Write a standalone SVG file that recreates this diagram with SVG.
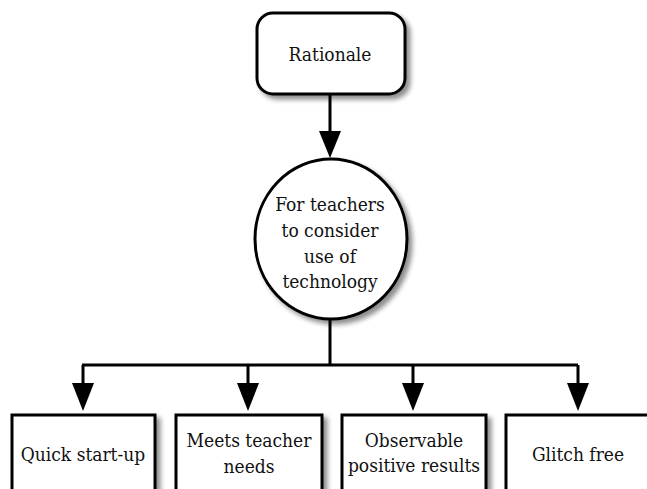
<svg xmlns="http://www.w3.org/2000/svg" width="647" height="489" viewBox="0 0 647 489">
  <defs>
    <filter id="shadow" x="-10%" y="-10%" width="130%" height="130%">
      <feGaussianBlur in="SourceAlpha" stdDeviation="2.5" result="blur"/>
      <feOffset dx="4" dy="4" result="off"/>
      <feComponentTransfer in="off" result="soft">
        <feFuncA type="linear" slope="0.45"/>
      </feComponentTransfer>
      <feMerge>
        <feMergeNode in="soft"/>
        <feMergeNode in="SourceGraphic"/>
      </feMerge>
    </filter>
  </defs>
  <style>
    .shape { fill: #fff; stroke: #000; stroke-width: 3; filter: url(#shadow); }
    .label { font-family: "DejaVu Serif Condensed", "DejaVu Serif", "Liberation Serif", serif; font-stretch: condensed; font-size: 19px; fill: #111; text-anchor: middle; }
    .wire { fill: none; stroke: #000; stroke-width: 3; }
    .head { fill: #000; }
  </style>
  <rect width="647" height="489" fill="#fff"/>

  <g id="connectors">
    <path class="wire" d="M330,95 V131"/>
    <path class="head" d="M319,131 L341,131 L330,158 Z"/>
    <path class="wire" d="M330,320 V365 M82,365 H578"/>
    <path class="wire" d="M83,365 V384 M248,365 V384 M413,365 V384 M578,365 V384"/>
    <path class="head" d="M72,383 L94,383 L83,411 Z"/>
    <path class="head" d="M237,383 L259,383 L248,411 Z"/>
    <path class="head" d="M402,383 L424,383 L413,411 Z"/>
    <path class="head" d="M567,383 L589,383 L578,411 Z"/>
  </g>

  <g id="rationale">
    <rect class="shape" x="257" y="13" width="148" height="81" rx="16" ry="16"/>
    <text class="label" x="330" y="61">Rationale</text>
  </g>

  <g id="consider">
    <ellipse class="shape" cx="331" cy="239" rx="76" ry="80"/>
    <text class="label" x="330" y="211">For teachers</text>
    <text class="label" x="330" y="237">to consider</text>
    <text class="label" x="330" y="263">use of</text>
    <text class="label" x="330" y="288">technology</text>
  </g>

  <g id="quick-start">
    <rect class="shape" x="12" y="415" width="143" height="90"/>
    <text class="label" x="83" y="461">Quick start-up</text>
  </g>

  <g id="teacher-needs">
    <rect class="shape" x="176" y="415" width="146" height="90"/>
    <text class="label" x="249" y="447">Meets teacher</text>
    <text class="label" x="249" y="473">needs</text>
  </g>

  <g id="positive-results">
    <rect class="shape" x="342" y="415" width="144" height="90"/>
    <text class="label" x="414" y="447">Observable</text>
    <text class="label" x="414" y="472">positive results</text>
  </g>

  <g id="glitch-free">
    <rect class="shape" x="506" y="415" width="146" height="90"/>
    <text class="label" x="578" y="461">Glitch free</text>
  </g>
</svg>
